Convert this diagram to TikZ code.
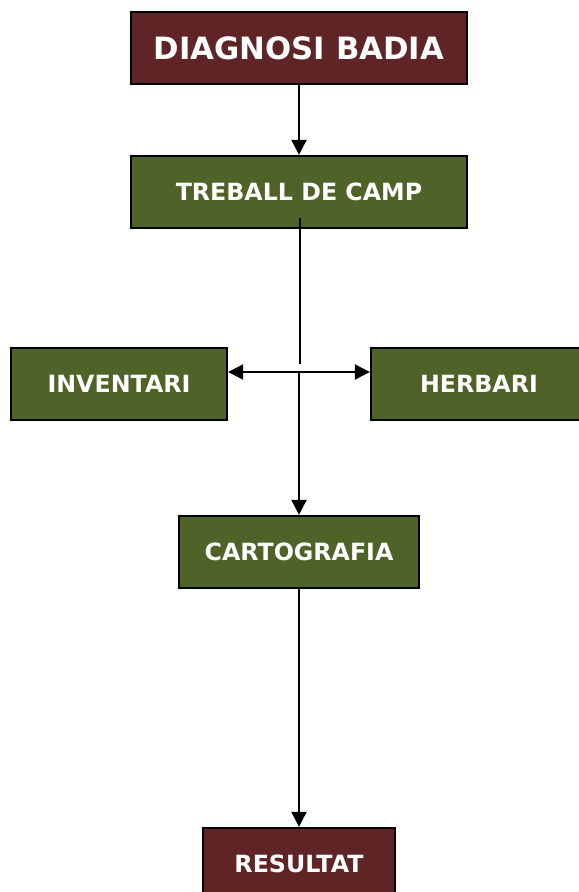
\documentclass[tikz,border=0pt]{standalone}
\usepackage{fontspec}
\setmainfont{DejaVu Sans}
\usepackage{tikz}
\usetikzlibrary{arrows.meta,positioning,calc}
\usepackage{xcolor}
\definecolor{c1}{HTML}{5F2426}
\definecolor{c2}{HTML}{4F6228}

\begin{document}
\begin{tikzpicture}[x=0.02cm, y=-0.02cm, >={Triangle[length=0.3cm,width=0.3cm]}, line width=1.1pt]
\tikzstyle{every box}=[draw=black, line width=1.3pt, text=white, font=\bfseries, minimum height=1.44cm, inner sep=0pt]
\tikzset{redbox/.style={every box, fill=c1}, greenbox/.style={every box, fill=c2}}
\useasboundingbox (0,0) rectangle (578,892);
\node[redbox, minimum width=6.72cm, font=\bfseries\fontsize{17.5}{20}\selectfont] (badia)   at (299,48)  {DIAGNOSI BADIA};
\node[greenbox, minimum width=6.72cm, font=\bfseries\fontsize{13.5}{16}\selectfont] (camp)   at (299,192) {TREBALL DE CAMP};
\node[greenbox, minimum width=4.32cm, font=\bfseries\fontsize{13.5}{16}\selectfont] (inventari) at (119,384) {INVENTARI};
\node[greenbox, minimum width=4.32cm, font=\bfseries\fontsize{13.5}{16}\selectfont] (herbari)   at (479,384) {HERBARI};
\node[greenbox, minimum width=4.8cm, font=\bfseries\fontsize{13.5}{16}\selectfont]  (carto)  at (299,552) {CARTOGRAFIA};
\node[redbox, minimum width=3.84cm, font=\bfseries\fontsize{13.5}{16}\selectfont]   (resultat) at (299,864) {RESULTAT};
\coordinate (top)   at (300,218);
\coordinate (gap)   at (300,364);
\coordinate (split) at (299,372);
\draw[->] (badia) -- (camp);
\draw (top) -- (gap);
\draw[<->] (inventari.east |- split) -- (herbari.west |- split);
\draw[->] (split) -- (carto);
\draw[->] (carto) -- (resultat);
\end{tikzpicture}
\end{document}
